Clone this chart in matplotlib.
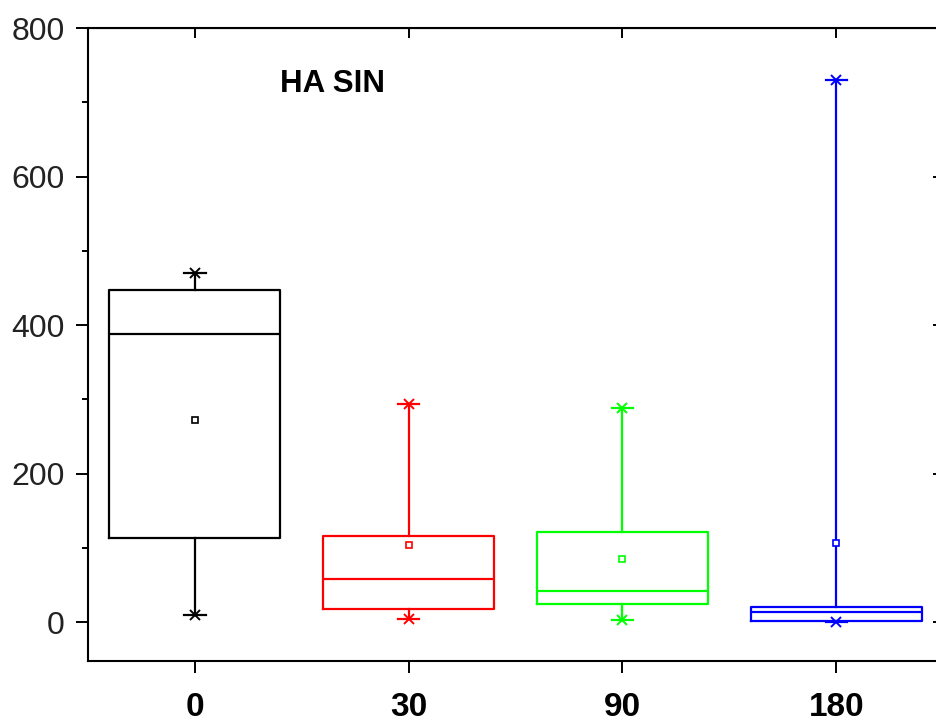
import numpy as np
import matplotlib
matplotlib.use("Agg")
import matplotlib.pyplot as plt

plt.rcParams['font.family'] = ['Liberation Sans', 'DejaVu Sans']

# box statistics
groups = ['0', '30', '90', '180']
colors = ['black', '#ff0000', '#00ff00', '#0000ff']
q1 = [113, 17, 24, 2]
med = [388, 58, 42, 14]
q3 = [447, 116, 121, 20]
lo = [9, 4, 3, 0.5]
hi = [470, 294, 288, 730]
means = [272, 104, 85, 106]

fig = plt.figure(figsize=(9.36, 7.28), dpi=100)
ax = fig.add_axes([0.094, 0.092, 0.909, 0.8695])

pos = np.arange(1, len(groups) + 1)
lw = 1.6
for i, p in enumerate(pos):
    c = colors[i]
    st = [dict(med=med[i], q1=q1[i], q3=q3[i], whislo=lo[i], whishi=hi[i],
               mean=means[i], fliers=[])]
    ax.bxp(st, positions=[p], widths=0.8, showmeans=True, showcaps=True,
           capwidths=0.1,
           boxprops=dict(color=c, lw=lw),
           whiskerprops=dict(color=c, lw=lw),
           capprops=dict(color=c, lw=lw),
           medianprops=dict(color=c, lw=lw),
           meanprops=dict(marker='s', markerfacecolor='white', markeredgecolor=c,
                          markersize=4.5, markeredgewidth=1.2))
    # 1% / 99% style cross markers at whisker ends
    ax.plot([p, p], [lo[i], hi[i]], ls='none', marker='x', color=c,
            markersize=7, mew=1.4)

ax.set_xlim(0.5, 4.48)
ax.set_ylim(-52.5, 800)
ax.set_xticks(pos)
ax.set_xticklabels(groups, fontsize=24, fontweight='bold')
ax.set_yticks([0, 200, 400, 600, 800])
ax.set_yticks([100, 300, 500, 700], minor=True)
ax.tick_params(axis='y', which='major', direction='out', length=8.6, width=1.4,
               labelsize=23, pad=8, labelcolor='#222222')
ax.tick_params(axis='y', which='minor', direction='out', length=4.3, width=1.4)
ax.tick_params(axis='x', which='major', direction='out', length=8.6, width=1.4,
               pad=14)
ax.tick_params(axis='x', which='minor', bottom=False)

for s in ax.spines.values():
    s.set_linewidth(1.5)

# inward ticks on top and right
top = ax.secondary_xaxis('top')
top.set_xticks(pos)
top.tick_params(direction='in', length=7, width=1.4, labeltop=False)
right = ax.secondary_yaxis('right')
right.set_yticks([0, 200, 400, 600, 800])
right.tick_params(direction='in', length=4.5, width=1.4, labelright=False)

ax.text(0.2256, 0.9115, 'HA SIN', transform=ax.transAxes, fontsize=22.5,
        fontweight='bold', ha='left', va='center')

fig.savefig('out.png', dpi=100)
